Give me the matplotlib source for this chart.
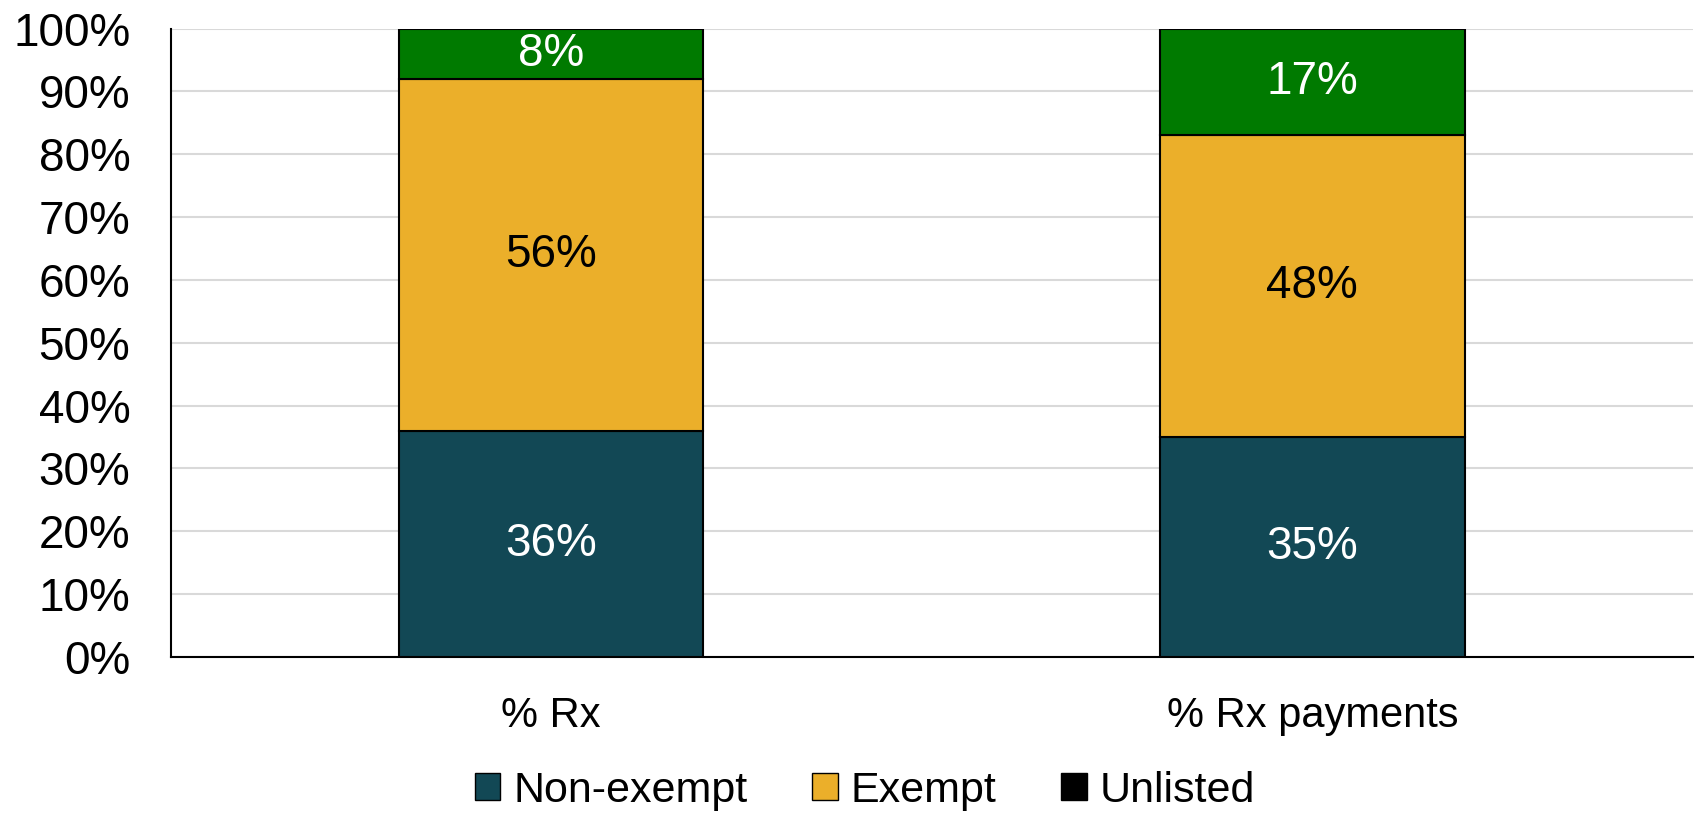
import matplotlib
matplotlib.use("Agg")
import matplotlib.pyplot as plt
from matplotlib.patches import Patch
from matplotlib.ticker import MultipleLocator, PercentFormatter

# Share of prescriptions and payments by exemption status
categories = ["% Rx", "% Rx payments"]
non_exempt = [36, 35]
exempt = [56, 48]
unlisted_top = [8, 17]
unlisted = [0, 0]

series_names = ["Non-exempt", "Exempt", "Unlisted"]
colors = {"Non-exempt": "#124855", "Exempt": "#EBAF2A", "Top": "#007A00", "Unlisted": "#000000"}

plt.rcParams["font.family"] = ["Liberation Sans", "DejaVu Sans"]

fig = plt.figure(figsize=(16.96, 8.15), dpi=100)
ax = fig.add_axes([0.1006, 0.1942, 0.8976, 0.7706])

x = list(range(len(categories)))
width = 0.4
edge = dict(edgecolor="black", linewidth=1.5)

b1 = ax.bar(x, non_exempt, width, color=colors["Non-exempt"], zorder=3, **edge)
bottom2 = non_exempt
b2 = ax.bar(x, exempt, width, bottom=bottom2, color=colors["Exempt"], zorder=3, **edge)
bottom3 = [a + b for a, b in zip(non_exempt, exempt)]
b3 = ax.bar(x, unlisted_top, width, bottom=bottom3, color=colors["Top"], zorder=3, **edge)

label_size = 33
for bars, vals, bottoms, tc in [
    (b1, non_exempt, [0, 0], "white"),
    (b2, exempt, bottom2, "black"),
    (b3, unlisted_top, bottom3, "white"),
]:
    for rect, v, b in zip(bars, vals, bottoms):
        ax.text(rect.get_x() + rect.get_width() / 2, b + v / 2, f"{v}%",
                ha="center", va="center", color=tc, fontsize=label_size, zorder=4)

ax.set_xlim(-0.5, 1.5)
ax.set_ylim(0, 100)
ax.yaxis.set_major_locator(MultipleLocator(10))
ax.yaxis.set_major_formatter(PercentFormatter(decimals=0))
ax.set_xticks(x)
ax.set_xticklabels(categories)
ax.tick_params(axis="y", length=0, pad=29, labelsize=33)
ax.tick_params(axis="x", length=0, pad=28, labelsize=30)

ax.grid(axis="y", color="#D9D9D9", linewidth=1.5, zorder=0)
ax.set_axisbelow(True)
for s in ["top", "right"]:
    ax.spines[s].set_visible(False)
ax.spines["left"].set_linewidth(1.5)
ax.spines["bottom"].set_linewidth(1.5)

handles = [Patch(facecolor=colors[n], edgecolor="black", linewidth=1.0) for n in series_names]
fig.legend(handles, series_names, loc="center", bbox_to_anchor=(0.51, 0.03), ncol=3,
           frameon=False, prop={"size": 31},
           handlelength=0.6, handleheight=0.6, handletextpad=0.3, columnspacing=1.5)

fig.savefig("out.png", dpi=100)
